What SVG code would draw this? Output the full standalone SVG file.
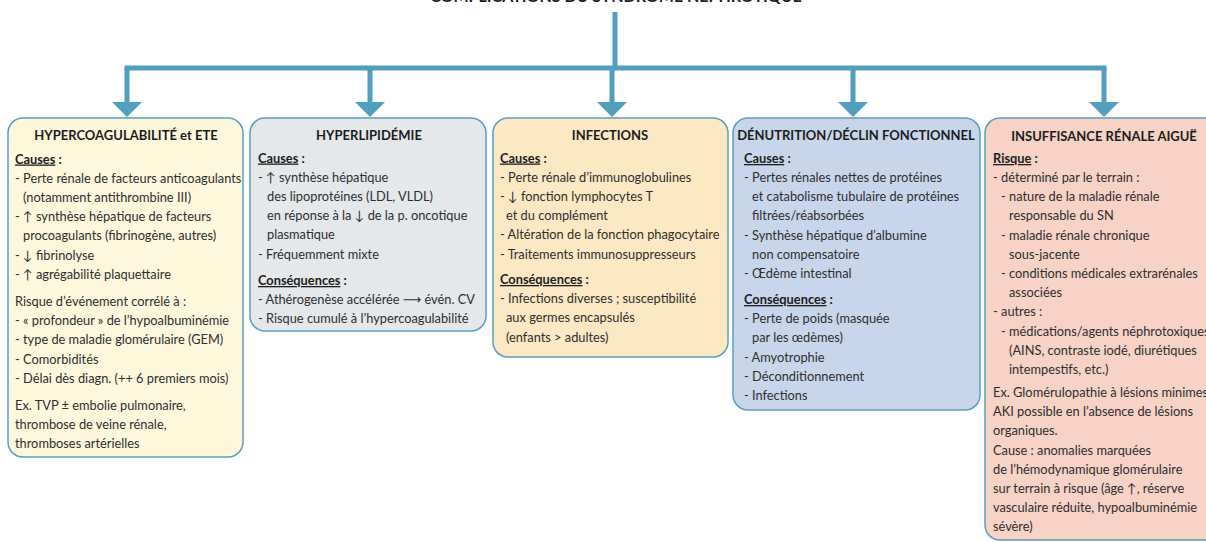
<svg xmlns="http://www.w3.org/2000/svg" width="1206" height="542" viewBox="0 0 1206 542">
<style>
.t{font-family:Lato,"DejaVu Sans",sans-serif;font-size:12.8px;fill:#2e2e2e}
.h{font-family:Lato,"DejaVu Sans",sans-serif;font-size:13px;font-weight:bold;fill:#1c1c1c;text-anchor:middle}
.s{font-weight:bold;fill:#1c1c1c}
.u{text-decoration:underline}
.box{stroke:#5a9ec0;stroke-width:1.5}
.conn{stroke:#519ebf;stroke-width:5;fill:none}
</style>
<defs>
<marker id="arr" viewBox="0 0 15 30" markerWidth="15" markerHeight="30" refX="0" refY="15" orient="auto" markerUnits="userSpaceOnUse">
<path d="M0,0 L15,15 L0,30 z" fill="#519ebf"/>
</marker>
</defs>
<text x="616" y="1.5" class="h" style="font-size:16px">COMPLICATIONS DU SYNDROME NÉPHROTIQUE</text>
<g id="connectors">
<path class="conn" d="M615,12 V68"/>
<path class="conn" d="M124.5,68 H1106.5"/>
<path class="conn" d="M127,68 V102" marker-end="url(#arr)"/>
<path class="conn" d="M370,68 V102" marker-end="url(#arr)"/>
<path class="conn" d="M612,68 V102" marker-end="url(#arr)"/>
<path class="conn" d="M853,68 V102" marker-end="url(#arr)"/>
<path class="conn" d="M1104,68 V102" marker-end="url(#arr)"/>
</g>
<g id="hypercoagulabilite">
<rect class="box" x="8" y="118" width="235" height="339" rx="15" fill="#fdf8dc"/>
<text x="126" y="140" class="h">HYPERCOAGULABILITÉ et ETE</text>
<text class="t">
<tspan x="15" y="163.5" class="s"><tspan class="u">Causes</tspan> :</tspan>
<tspan x="15" y="182.7">- Perte rénale de facteurs anticoagulants</tspan>
<tspan x="23" y="201.9">(notamment antithrombine III)</tspan>
<tspan x="15" y="221.1">- ↑ synthèse hépatique de facteurs</tspan>
<tspan x="23" y="240.3">procoagulants (fibrinogène, autres)</tspan>
<tspan x="15" y="259.5">- ↓ fibrinolyse</tspan>
<tspan x="15" y="278.7">- ↑ agrégabilité plaquettaire</tspan>
<tspan x="15" y="306">Risque d’événement corrélé à :</tspan>
<tspan x="15" y="325.2">- « profondeur » de l’hypoalbuminémie</tspan>
<tspan x="15" y="344.4">- type de maladie glomérulaire (GEM)</tspan>
<tspan x="15" y="363.6">- Comorbidités</tspan>
<tspan x="15" y="382.8">- Délai dès diagn. (++ 6 premiers mois)</tspan>
<tspan x="15" y="410">Ex. TVP ± embolie pulmonaire,</tspan>
<tspan x="15" y="429.2">thrombose de veine rénale,</tspan>
<tspan x="15" y="448.4">thromboses artérielles</tspan>
</text>
</g>
<g id="hyperlipidemie">
<rect class="box" x="250" y="118" width="236" height="213" rx="15" fill="#e4e8ea"/>
<text x="369" y="140" class="h">HYPERLIPIDÉMIE</text>
<text class="t">
<tspan x="258" y="162.5" class="s"><tspan class="u">Causes</tspan> :</tspan>
<tspan x="258" y="181.7">- ↑ synthèse hépatique</tspan>
<tspan x="267" y="200.9">des lipoprotéines (LDL, VLDL)</tspan>
<tspan x="267" y="220.1">en réponse à la ↓ de la p. oncotique</tspan>
<tspan x="267" y="239.3">plasmatique</tspan>
<tspan x="258" y="258.5">- Fréquemment mixte</tspan>
<tspan x="258" y="285" class="s"><tspan class="u">Conséquences</tspan> :</tspan>
<tspan x="258" y="304">- Athérogenèse accélérée ⟶ évén. CV</tspan>
<tspan x="258" y="323">- Risque cumulé à l’hypercoagulabilité</tspan>
</text>
</g>
<g id="infections">
<rect class="box" x="493" y="118" width="235" height="239" rx="15" fill="#fce9c4"/>
<text x="610" y="140" class="h">INFECTIONS</text>
<text class="t">
<tspan x="500" y="162.5" class="s"><tspan class="u">Causes</tspan> :</tspan>
<tspan x="500" y="181.7">- Perte rénale d’immunoglobulines</tspan>
<tspan x="500" y="200.9">- ↓ fonction lymphocytes T</tspan>
<tspan x="506" y="220.1">et du complément</tspan>
<tspan x="500" y="239.3">- Altération de la fonction phagocytaire</tspan>
<tspan x="500" y="258.5">- Traitements immunosuppresseurs</tspan>
<tspan x="500" y="284" class="s"><tspan class="u">Conséquences</tspan> :</tspan>
<tspan x="500" y="303.2">- Infections diverses ; susceptibilité</tspan>
<tspan x="506" y="322.4">aux germes encapsulés</tspan>
<tspan x="506" y="341.6">(enfants &gt; adultes)</tspan>
</text>
</g>
<g id="denutrition">
<rect class="box" x="733" y="118" width="247" height="292" rx="15" fill="#c8d6ec"/>
<text x="856" y="140" class="h">DÉNUTRITION/DÉCLIN FONCTIONNEL</text>
<text class="t">
<tspan x="744" y="163" class="s"><tspan class="u">Causes</tspan> :</tspan>
<tspan x="744" y="182">- Pertes rénales nettes de protéines</tspan>
<tspan x="752" y="201.2">et catabolisme tubulaire de protéines</tspan>
<tspan x="752" y="220.4">filtrées/réabsorbées</tspan>
<tspan x="744" y="239.6">- Synthèse hépatique d’albumine</tspan>
<tspan x="752" y="258.8">non compensatoire</tspan>
<tspan x="744" y="278">- Œdème intestinal</tspan>
<tspan x="744" y="304" class="s"><tspan class="u">Conséquences</tspan> :</tspan>
<tspan x="744" y="323.2">- Perte de poids (masquée</tspan>
<tspan x="752" y="342.4">par les œdèmes)</tspan>
<tspan x="744" y="361.6">- Amyotrophie</tspan>
<tspan x="744" y="380.8">- Déconditionnement</tspan>
<tspan x="744" y="400">- Infections</tspan>
</text>
</g>
<g id="ira">
<rect class="box" x="985" y="118" width="240" height="422" rx="15" fill="#f6d3c5"/>
<text x="1104" y="141" class="h">INSUFFISANCE RÉNALE AIGUË</text>
<text class="t">
<tspan x="993" y="163" class="s"><tspan class="u">Risque</tspan> :</tspan>
<tspan x="993" y="182">- déterminé par le terrain :</tspan>
<tspan x="1001" y="201.2">- nature de la maladie rénale</tspan>
<tspan x="1009" y="220.4">responsable du SN</tspan>
<tspan x="1001" y="239.6">- maladie rénale chronique</tspan>
<tspan x="1009" y="258.8">sous-jacente</tspan>
<tspan x="1001" y="278">- conditions médicales extrarénales</tspan>
<tspan x="1009" y="297.2">associées</tspan>
<tspan x="993" y="316.4">- autres :</tspan>
<tspan x="1001" y="335.6">- médications/agents néphrotoxiques</tspan>
<tspan x="1009" y="354.8">(AINS, contraste iodé, diurétiques</tspan>
<tspan x="1009" y="374">intempestifs, etc.)</tspan>
<tspan x="993" y="397">Ex. Glomérulopathie à lésions minimes</tspan>
<tspan x="993" y="416.2">AKI possible en l’absence de lésions</tspan>
<tspan x="993" y="435.4">organiques.</tspan>
<tspan x="993" y="454.6">Cause : anomalies marquées</tspan>
<tspan x="993" y="473.8">de l’hémodynamique glomérulaire</tspan>
<tspan x="993" y="493">sur terrain à risque (âge ↑, réserve</tspan>
<tspan x="993" y="512.2">vasculaire réduite, hypoalbuminémie</tspan>
<tspan x="993" y="531.4">sévère)</tspan>
</text>
</g>
</svg>
